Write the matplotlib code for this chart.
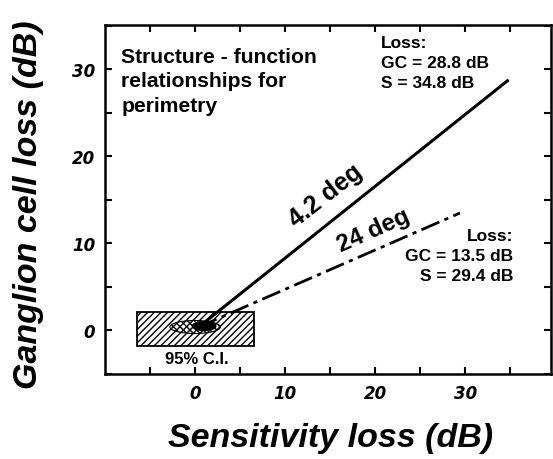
import matplotlib.pyplot as plt
from matplotlib.patches import Rectangle, Ellipse

# structure-function lines: start at origin, end at (S loss, GC loss)
line_42_s = [0.4, 34.8]
line_42_gc = [0.4, 28.8]
line_24_s = [0.4, 29.4]
line_24_gc = [0.4, 13.5]

# 95% confidence regions
ci_outer = (-6.5, -1.8, 13.0, 3.9)   # x0, y0, width, height
ci_inner = (0.0, 0.4, 5.6, 1.5)      # centre x, centre y, width, height

xticks = [-5, 0, 5, 10, 15, 20, 25, 30, 35]
xticklabels = ['', '0', '', '10', '', '20', '', '30', '']
yticks = [-5, 0, 5, 10, 15, 20, 25, 30, 35]
yticklabels = ['', '0', '', '10', '', '20', '', '30', '']

plt.rcParams['font.family'] = ['Liberation Sans', 'DejaVu Sans']
plt.rcParams['hatch.linewidth'] = 1.0

fig = plt.figure(figsize=(5.53, 4.60), dpi=100)
ax = fig.add_axes([105 / 553, 1 - 375 / 460, 446 / 553, 349 / 460])

ax.add_patch(Rectangle(ci_outer[:2], ci_outer[2], ci_outer[3], fill=False,
                       hatch='/////', lw=1.3, ec='black'))
ax.add_patch(Ellipse(ci_inner[:2], ci_inner[2], ci_inner[3], fill=False,
                     hatch='\\\\\\\\\\', lw=0.8, ec='black'))
ax.add_patch(Ellipse((1.0, 0.5), 2.6, 1.0, color='black'))

ax.plot(line_42_s, line_42_gc, color='black', lw=2.2, solid_capstyle='butt')
ax.plot(line_24_s, line_24_gc, color='black', lw=2.0,
        dashes=[7, 2, 1.5, 2])

ax.text(0.2, -2.4, '95% C.I.', ha='center', va='top', fontsize=12,
        fontweight='bold')
ax.text(14.5, 15.6, '4.2 deg', ha='center', va='center', rotation=38,
        fontsize=18, fontweight='bold')
ax.text(19.8, 11.6, '24 deg', ha='center', va='center', rotation=24,
        fontsize=17.5, fontweight='bold')

ax.text(-8.2, 32.6, 'Structure - function\nrelationships for\nperimetry',
        ha='left', va='top', fontsize=15.2, fontweight='bold',
        linespacing=1.38)
ax.text(20.6, 34.0, 'Loss:\nGC = 28.8 dB\nS = 34.8 dB', ha='left', va='top',
        fontsize=12.5, fontweight='bold', linespacing=1.42)
ax.text(35.3, 11.8, 'Loss:\nGC = 13.5 dB\nS = 29.4 dB', ha='right', va='top',
        fontsize=12.5, fontweight='bold', linespacing=1.42)

ax.set_xlim(-10, 39.5)
ax.set_ylim(-5, 35.1)
ax.set_xticks(xticks)
ax.set_xticklabels(xticklabels)
ax.set_yticks(yticks)
ax.set_yticklabels(yticklabels)
ax.tick_params(direction='in', length=5, width=1.5, top=True, right=True,
               labelsize=12, pad=7)
for lab in ax.get_xticklabels() + ax.get_yticklabels():
    lab.set_family('DejaVu Sans')
    lab.set_fontweight('bold')
    lab.set_fontstyle('italic')
for sp in ax.spines.values():
    sp.set_linewidth(1.8)

fig.text(331 / 553, 1 - 438 / 460, 'Sensitivity loss (dB)', ha='center',
         va='center', fontsize=24.5, fontweight='bold', fontstyle='italic')
fig.text(29 / 553, 1 - 205 / 460, 'Ganglion cell loss (dB)', ha='center',
         va='center', rotation=90, fontsize=24.5, fontweight='bold',
         fontstyle='italic')

fig.savefig('out.png', dpi=100)
